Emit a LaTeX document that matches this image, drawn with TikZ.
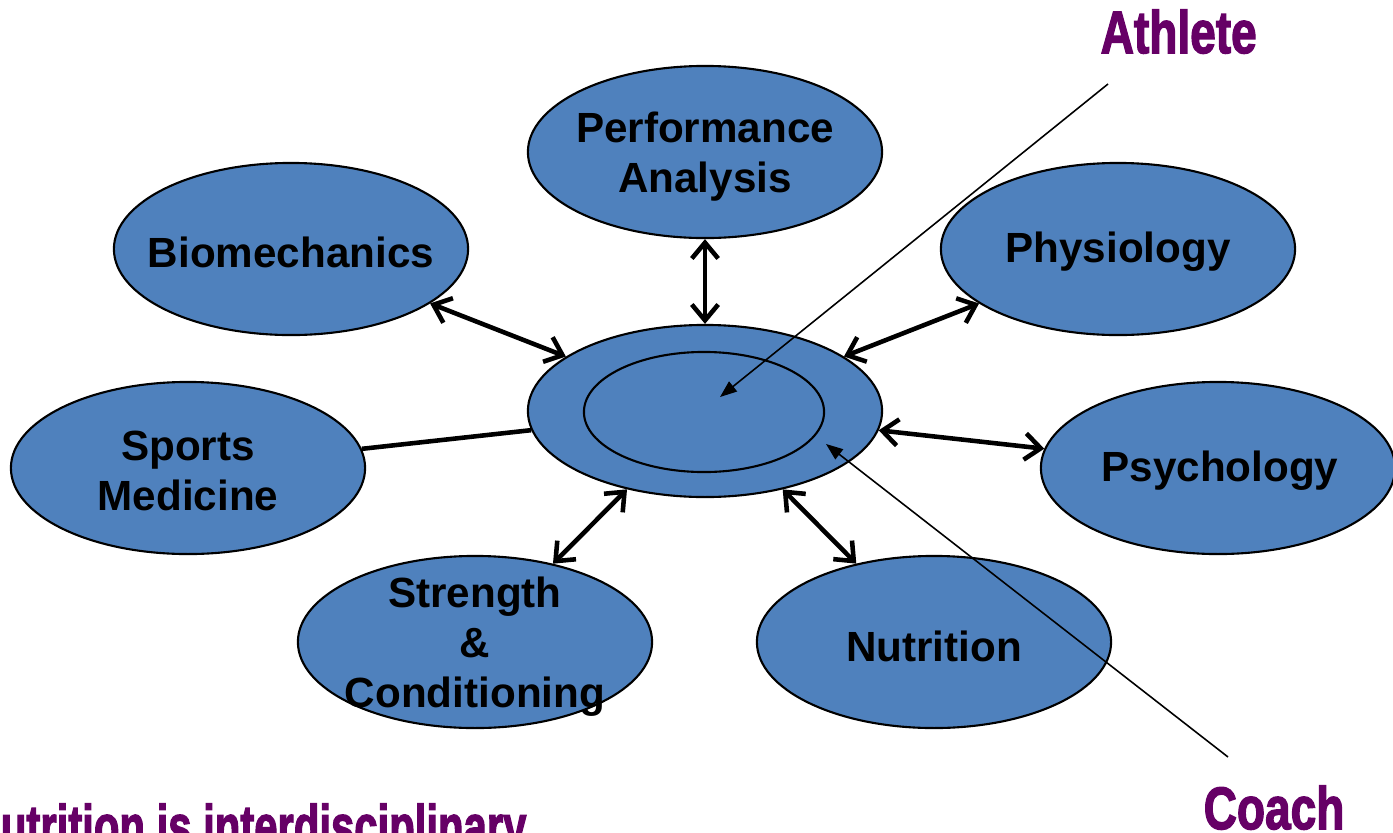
\documentclass[tikz,border=0pt]{standalone}
\usepackage{fontspec}
\setmainfont{Liberation Sans}
\newfontfamily\heavyfont{Liberation Sans}[BoldFeatures={FakeBold=2.5}]
\usetikzlibrary{shapes.geometric, arrows.meta}
\definecolor{officeblue}{HTML}{4F81BD}
\definecolor{plum}{HTML}{660066}

\begin{document}
\begin{tikzpicture}[
    x=0.01cm, y=-0.01cm,
    every node/.style={font=\fontsize{12}{14.2}\selectfont\bfseries},
    blob/.style={draw, ellipse, fill=officeblue, line width=0.6pt, minimum width=3.54cm, minimum height=1.72cm, inner sep=0pt},
    ring/.style={draw, ellipse, line width=0.6pt, minimum width=2.4cm, minimum height=1.2cm, inner sep=0pt},
    tag/.style={align=center, inner sep=0pt},
    link/.style={{Straight Barb[length=4.5pt,width=7.5pt]}-{Straight Barb[length=4.5pt,width=7.5pt]}, line width=1.3pt},
    pointer/.style={-{Triangle[length=4.8pt,width=3.6pt]}, line width=0.45pt},
    banner/.style={text=plum, font=\heavyfont\fontsize{17}{17}\selectfont\bfseries, inner sep=0pt, anchor=base west},
]
\useasboundingbox (0,0) rectangle (1393,833);
\clip (0,0) rectangle (1393,833);

\node[blob] (perf) at (705,152) {};
\node[blob] (bio) at (291,249) {};
\node[blob] (phys) at (1118,249) {};
\node[blob] (sportsmed) at (188,468) {};
\node[blob] (psych) at (1218,468) {};
\node[blob] (strength) at (475,642) {};
\node[blob] (nutri) at (934,642) {};
\node[blob] (hub) at (705,411) {};
\node[ring] (core) at (704,412) {};

\node[tag] (perfText) at (705,157) {Performance\\Analysis};
\node[tag] (bioText) at (291,252) {Biomechanics};
\node[tag] (physText) at (1118,252) {Physiology};
\node[tag] (sportsmedText) at (188,471) {Sports\\Medicine};
\node[tag] (psychText) at (1220,471) {Psychology};
\node[tag] (strengthText) at (475,647) {Strength\\\&\\Conditioning};
\node[tag] (nutriText) at (934,646) {Nutrition};

\draw[link] (perf) -- (hub);
\draw[link] (bio) -- (hub);
\draw[link] (phys) -- (hub);
\draw[line width=1.3pt] (sportsmed) -- (hub);
\draw[link] (psych) -- (hub);
\draw[link] (strength) -- (hub);
\draw[link] (nutri) -- (hub);

\coordinate (athleteTail) at (1108,84);
\coordinate (athleteTip) at (720,397);
\coordinate (coachTail) at (1228,757);
\coordinate (coachTip) at (826,444);
\draw[pointer] (athleteTail) -- (athleteTip);
\draw[pointer] (coachTail) -- (coachTip);

\node[banner] (athlete) at (1100,53) {\scalebox{0.77}[1]{Athlete}};
\node[banner] (coach) at (1203,829) {\scalebox{0.77}[1]{Coach}};
\node[banner] (motto) at (-30,847) {\scalebox{0.7}[1]{Nutrition is interdisciplinary}};
\end{tikzpicture}
\end{document}
